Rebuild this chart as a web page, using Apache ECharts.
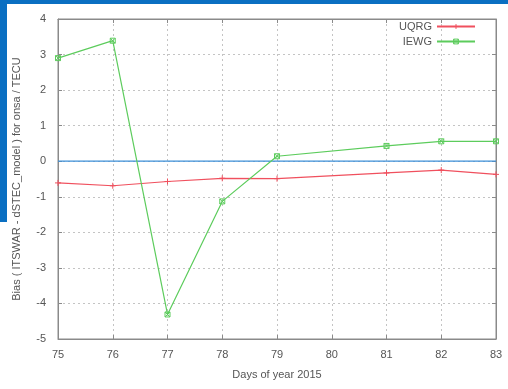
<!DOCTYPE html>
<html><head><meta charset="utf-8">
<script src="https://cdn.jsdelivr.net/npm/echarts@6/dist/echarts.min.js"></script>
<style>html,body{margin:0;padding:0;background:#fff}#c{width:508px;height:389px}</style>
</head><body><div id="c"></div>
<script>
// Days of year 2015 (day 80 has no data point)
const uqrgDays = [75, 76, 77, 78, 79, 81, 82, 83];
const uqrgVals = [-0.61, -0.69, -0.57, -0.48, -0.49, -0.33, -0.25, -0.37];
const iewgDays = [75, 76, 77, 78, 79, 81, 82, 83];
const iewgVals = [2.9, 3.39, -4.31, -1.13, 0.14, 0.43, 0.56, 0.56];
const xTicks = [75, 76, 77, 78, 79, 80, 81, 82, 83];
const yTicks = [-5, -4, -3, -2, -1, 0, 1, 2, 3, 4];
const zeroLevel = 0;

const chart = echarts.init(document.getElementById('c'));
const font = 'Liberation Sans, Arial, sans-serif';
const txt = '#555';
const axisCommon = {
  axisLine: {show: true, onZero: false, lineStyle: {color: '#8a8a8a', width: 1}},
  axisTick: {show: true, inside: true, length: 4, lineStyle: {color: '#8a8a8a'}},
};
const plus = 'path://M0,5L10,5M5,0L5,10';
const cross = 'path://M0,0L10,10M10,0L0,10M0,0L10,0L10,10L0,10Z';
const red = '#f0505e', green = '#5ccc5c', blue = '#3d8fd8';
chart.setOption({
  animation: false,
  backgroundColor: '#fff',
  grid: {left: 58, right: 12, top: 19, bottom: 50, show: true, borderColor: '#8a8a8a', borderWidth: 1},
  legend: {
    top: 16, right: 27, orient: 'vertical', align: 'right', itemGap: 4,
    itemWidth: 38, itemHeight: 6,
    textStyle: {fontFamily: font, fontSize: 11, color: txt},
    data: [
      {name: 'UQRG', itemStyle: {color: red, borderColor: red, borderWidth: 1}},
      {name: 'IEWG', itemStyle: {color: 'rgba(0,0,0,0)', borderColor: green, borderWidth: 1}}
    ]
  },
  xAxis: [{
    type: 'value', min: xTicks[0], max: xTicks[xTicks.length - 1], interval: 1,
    ...axisCommon,
    axisLabel: {fontFamily: font, fontSize: 11, color: txt, margin: 10},
    splitLine: {show: true, lineStyle: {type: [2, 3], color: '#c4c4c4'}},
    name: 'Days of year 2015', nameLocation: 'middle', nameGap: 30,
    nameTextStyle: {fontFamily: font, fontSize: 11, color: txt}
  }, {
    type: 'value', position: 'top', min: xTicks[0], max: xTicks[xTicks.length - 1], interval: 1,
    ...axisCommon, axisLabel: {show: false}, splitLine: {show: false}
  }],
  yAxis: [{
    type: 'value', min: yTicks[0], max: yTicks[yTicks.length - 1], interval: 1,
    ...axisCommon,
    axisLabel: {fontFamily: font, fontSize: 11, color: txt, margin: 12},
    splitLine: {show: true, lineStyle: {type: [2, 3], color: '#c4c4c4'}},
    name: 'Bias ( ITSWAR - dSTEC_model ) for onsa / TECU', nameLocation: 'middle', nameGap: 36,
    nameTextStyle: {fontFamily: font, fontSize: 11, color: txt}
  }, {
    type: 'value', position: 'right', min: yTicks[0], max: yTicks[yTicks.length - 1], interval: 1,
    ...axisCommon, axisLabel: {show: false}, splitLine: {show: false}
  }],
  series: [{
    name: 'zero', type: 'line',
    data: [[xTicks[0], zeroLevel], [xTicks[xTicks.length - 1], zeroLevel]],
    lineStyle: {color: blue, width: 1.2},
    itemStyle: {color: blue},
    showSymbol: false, symbol: 'none', silent: true,
    z: 2
  }, {
    name: 'UQRG', type: 'line',
    data: uqrgDays.map((d, i) => [d, uqrgVals[i]]),
    lineStyle: {color: red, width: 1.2},
    itemStyle: {color: red, borderColor: red, borderWidth: 1},
    symbol: plus, symbolSize: 6, showSymbol: true,
    z: 3
  }, {
    name: 'IEWG', type: 'line',
    data: iewgDays.map((d, i) => [d, iewgVals[i]]),
    lineStyle: {color: green, width: 1.2},
    itemStyle: {color: 'rgba(0,0,0,0)', borderColor: green, borderWidth: 1},
    symbol: cross, symbolSize: 5, showSymbol: true,
    z: 4
  }],
  graphic: [
    {type: 'rect', shape: {x: 0, y: 0, width: 508, height: 4}, style: {fill: '#0a6fc2'}},
    {type: 'rect', shape: {x: 0, y: 0, width: 7, height: 222}, style: {fill: '#0a6fc2'}}
  ]
});
</script></body></html>
